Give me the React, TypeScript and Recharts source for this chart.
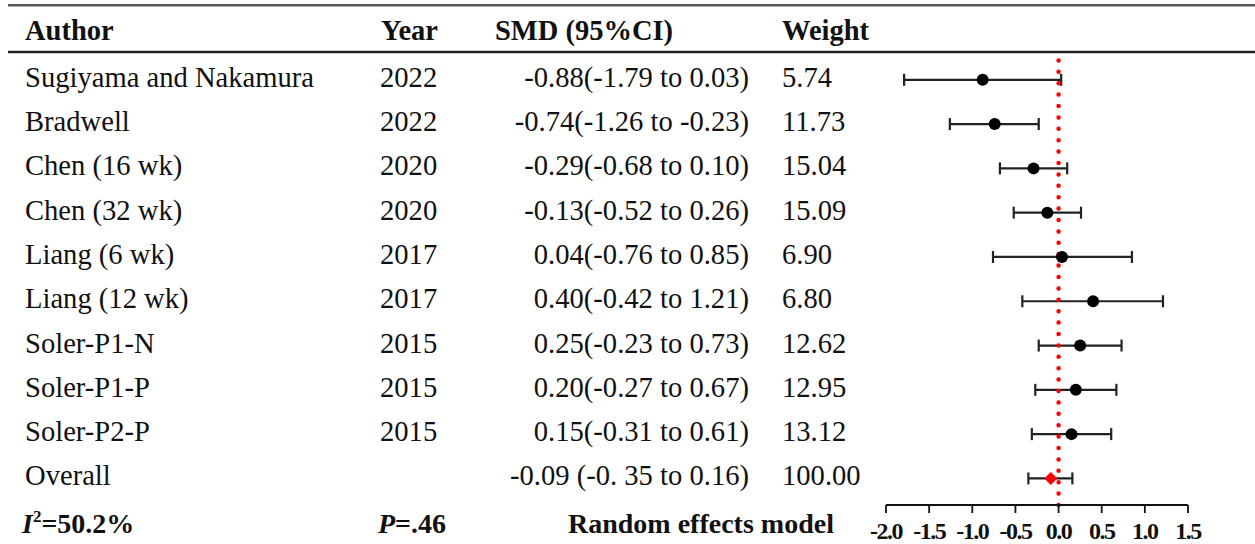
import React from "react";
import {
  ScatterChart,
  Scatter,
  XAxis,
  YAxis,
  ErrorBar,
  ReferenceLine,
} from "recharts";

const W = 1255;
const H = 544;
const FONT = "'Times New Roman', 'Liberation Serif', serif";

// table rows, top to bottom (last row is the pooled estimate)
const authors = [
  "Sugiyama and Nakamura",
  "Bradwell",
  "Chen (16 wk)",
  "Chen (32 wk)",
  "Liang (6 wk)",
  "Liang (12 wk)",
  "Soler-P1-N",
  "Soler-P1-P",
  "Soler-P2-P",
  "Overall",
];
const years = ["2022", "2022", "2020", "2020", "2017", "2017", "2015", "2015", "2015", ""];
const smd = [-0.88, -0.74, -0.29, -0.13, 0.04, 0.4, 0.25, 0.2, 0.15, -0.09];
const lower = [-1.79, -1.26, -0.68, -0.52, -0.76, -0.42, -0.23, -0.27, -0.31, -0.35];
const upper = [0.03, -0.23, 0.1, 0.26, 0.85, 1.21, 0.73, 0.67, 0.61, 0.16];
const weights = [5.74, 11.73, 15.04, 15.09, 6.9, 6.8, 12.62, 12.95, 13.12, 100.0];
const ciLabels = [
  "-0.88(-1.79 to 0.03)",
  "-0.74(-1.26 to -0.23)",
  "-0.29(-0.68 to 0.10)",
  "-0.13(-0.52 to 0.26)",
  "0.04(-0.76 to 0.85)",
  "0.40(-0.42 to 1.21)",
  "0.25(-0.23 to 0.73)",
  "0.20(-0.27 to 0.67)",
  "0.15(-0.31 to 0.61)",
  "-0.09 (-0. 35 to 0.16)",
];
const xTicks = [-2, -1.5, -1, -0.5, 0, 0.5, 1, 1.5];
const rowTicks = authors.map((_, i) => i);

const rows = smd.map((v, i) => ({
  x: v,
  y: i,
  err: [v - lower[i], upper[i] - v],
}));
const studies = rows.slice(0, rows.length - 1);
const overall = rows.slice(rows.length - 1);

const RowTick = (props: any) => {
  const { y, payload } = props;
  const i = payload.value;
  const base = y + 7;
  return (
    <g fontFamily={FONT} fontSize={28.6} fill="#111">
      <text x={25} y={base}>{authors[i]}</text>
      <text x={380} y={base}>{years[i]}</text>
      <text x={749} y={base} textAnchor="end">{ciLabels[i]}</text>
      <text x={782} y={base}>{weights[i].toFixed(2)}</text>
    </g>
  );
};

const AxisTick = (props: any) => {
  const { x, payload } = props;
  // label baseline sits a fixed distance under the axis line
  return (
    <text
      x={x}
      y={539}
      textAnchor="middle"
      fontFamily={FONT}
      fontWeight="bold"
      fontSize={24}
      letterSpacing={-1.5}
      fill="#111"
    >
      {Number(payload.value).toFixed(1)}
    </text>
  );
};

const Dot = (props: any) => <circle cx={props.cx} cy={props.cy} r={6} fill="#000" />;

const Diamond = (props: any) => {
  const { cx, cy } = props;
  const s = 6.5;
  return (
    <path
      d={`M${cx - s},${cy} L${cx},${cy - s} L${cx + s},${cy} L${cx},${cy + s} Z`}
      fill="#ff0000"
    />
  );
};

export default function App() {
  return (
    <div
      style={{
        position: "absolute",
        left: 0,
        top: 0,
        width: W,
        height: H,
        background: "#fff",
        overflow: "hidden",
      }}
    >
      <svg width={W} height={H} style={{ position: "absolute", left: 0, top: 0 }}>
        <line x1={8} x2={W} y1={5.3} y2={5.3} stroke="#555" strokeWidth={2.5} />
        <line x1={8} x2={W} y1={52} y2={52} stroke="#222" strokeWidth={2.5} />
        <g fontFamily={FONT} fontSize={28.5} fontWeight="bold" fill="#111">
          <text x={25} y={40}>Author</text>
          <text x={381} y={40}>Year</text>
          <text x={495} y={40}>SMD (95%CI)</text>
          <text x={782} y={40}>Weight</text>
        </g>
        <g fontFamily={FONT} fontSize={28} fontWeight="bold" fill="#111">
          <text x={22} y={533}>
            <tspan fontStyle="italic">I</tspan>
            <tspan dy={-11} fontSize={17}>2</tspan>
            <tspan dy={11}>=50.2%</tspan>
          </text>
          <text x={378} y={533}>
            <tspan fontStyle="italic">P</tspan>=.46
          </text>
          <text x={568} y={533}>Random effects model</text>
        </g>
      </svg>
      <div style={{ position: "absolute", left: 0, top: 0 }}>
        <ScatterChart
          width={W}
          height={H}
          margin={{ top: 51, right: 67, bottom: 0, left: 885 }}
        >
          <XAxis
            type="number"
            dataKey="x"
            domain={[-2, 1.5]}
            ticks={xTicks}
            interval={0}
            height={39}
            tickSize={8}
            stroke="#111"
            strokeWidth={1.8}
            tick={<AxisTick />}
          />
          <YAxis
            type="number"
            dataKey="y"
            domain={[-0.65, 9.6]}
            reversed
            ticks={rowTicks}
            interval={0}
            width={1}
            axisLine={false}
            tickLine={false}
            tick={<RowTick />}
          />
          <Scatter data={studies} shape={<Dot />} isAnimationActive={false}>
            <ErrorBar dataKey="err" direction="x" width={6} stroke="#222" strokeWidth={2.2} />
          </Scatter>
          <ReferenceLine
            x={0}
            stroke="#ff0000"
            strokeWidth={4.5}
            strokeDasharray="0 11.4"
            strokeLinecap="round"
          />
          <Scatter data={overall} shape={<Diamond />} isAnimationActive={false}>
            <ErrorBar dataKey="err" direction="x" width={6} stroke="#222" strokeWidth={2.2} />
          </Scatter>
        </ScatterChart>
      </div>
    </div>
  );
}
